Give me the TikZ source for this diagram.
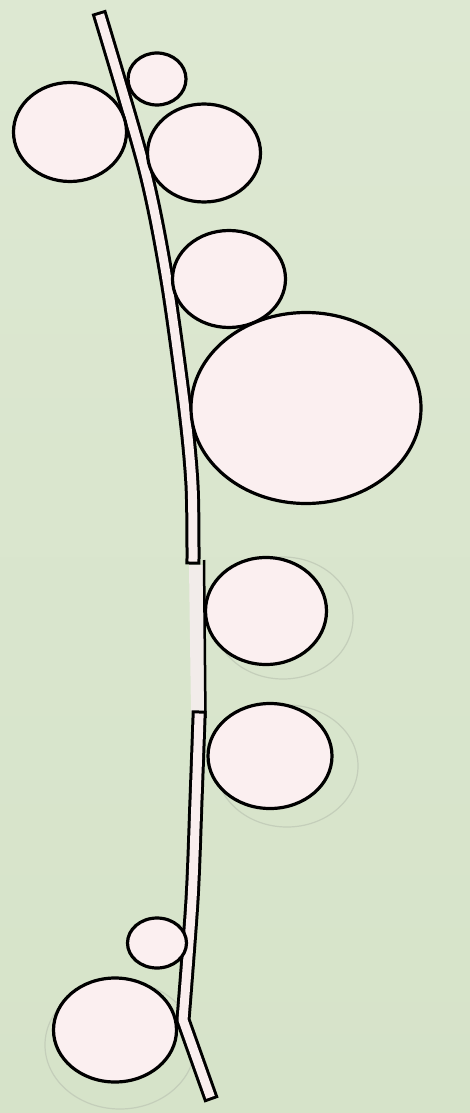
\documentclass[tikz,border=0pt]{standalone}
\usetikzlibrary{shapes.geometric}
\definecolor{bg}{RGB}{214,227,201}
\definecolor{bgtop}{RGB}{221,232,210}
\definecolor{bubblefill}{RGB}{251,239,240}
\definecolor{stemfill}{RGB}{249,238,238}
\definecolor{stemlight}{RGB}{242,236,234}
\definecolor{ring}{RGB}{196,206,186}
\tikzset{
  bubble/.style={ellipse, draw=black, line width=3.2pt, fill=bubblefill, inner sep=0pt},
  shadowring/.style={ellipse, draw=ring, line width=1.2pt, inner sep=0pt},
  stemout/.style={line width=15pt, draw=black, line cap=rect, line join=round},
  stemin/.style={line width=9pt, draw=stemfill, line cap=rect, line join=round},
}
\begin{document}
\begin{tikzpicture}[x=1pt,y=-1pt]
\useasboundingbox (0,0) rectangle (470,1113);
\shade[top color=bgtop, bottom color=bg] (0,0) rectangle (470,1113);

% faint shadow rings
\node[shadowring, minimum width=140pt, minimum height=122pt] (r6) at (283,618) {};
\node[shadowring, minimum width=142pt, minimum height=122pt] (r7) at (287,766) {};
\node[shadowring, minimum width=150pt, minimum height=128pt] (r9) at (120,1045) {};

% stem coordinates
\coordinate (s0) at (101,19);
\coordinate (s1) at (145,170);
\coordinate (s2) at (167,280);
\coordinate (s3) at (185,410);
\coordinate (s4) at (192,485);
\coordinate (s5) at (193,557);
\coordinate (b0) at (199,718);
\coordinate (b1) at (196,800);
\coordinate (b2) at (192,900);
\coordinate (b3) at (183,1020);
\coordinate (b4) at (209,1093);

% middle (lighter) segment
\fill[stemlight] (189,565) -- (205,565) -- (206,713) -- (191,713) -- cycle;
\draw[black, line width=2.5pt] (204,560) -- (205.5,718);

% top segment
\draw[stemout] plot[smooth, tension=0.5] coordinates {(s0) (s1) (s2) (s3) (s4) (s5)};
\draw[stemin]  plot[smooth, tension=0.5] coordinates {(s0) (s1) (s2) (s3) (s4) (s5)};

% bottom segment
\draw[stemout] plot[smooth, tension=0.5] coordinates {(b0) (b1) (b2) (b3)} -- (b4);
\draw[stemin]  plot[smooth, tension=0.5] coordinates {(b0) (b1) (b2) (b3)} -- (b4);

% bubbles
\node[bubble, minimum width=58pt, minimum height=52pt] (c1) at (157,79) {};
\node[bubble, minimum width=113pt, minimum height=99pt] (c2) at (70,132) {};
\node[bubble, minimum width=113pt, minimum height=98pt] (c3) at (204,153) {};
\node[bubble, minimum width=113pt, minimum height=97pt] (c4) at (229,279) {};
\node[bubble, minimum width=230pt, minimum height=191pt] (c5) at (306,408) {};
\node[bubble, minimum width=121pt, minimum height=107pt] (c6) at (266,611) {};
\node[bubble, minimum width=124pt, minimum height=105pt] (c7) at (270,756) {};
\node[bubble, minimum width=59pt, minimum height=50pt] (c8) at (157,943) {};
\node[bubble, minimum width=123pt, minimum height=104pt] (c9) at (115,1030) {};
\end{tikzpicture}
\end{document}
